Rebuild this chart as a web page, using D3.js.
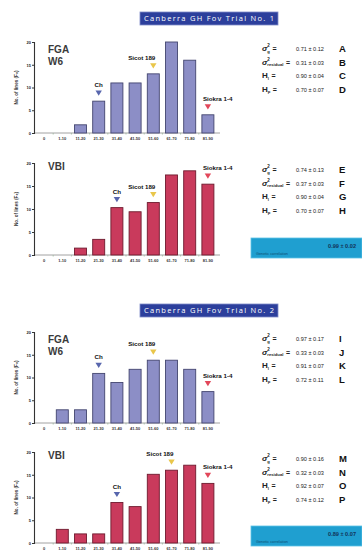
<!DOCTYPE html>
<html>
<head>
<meta charset="utf-8">
<script src="https://cdn.jsdelivr.net/npm/d3@7"></script>
<style>
  html, body { margin: 0; padding: 0; background: #fff; }
  svg { display: block; font-family: "Liberation Sans", Arial, sans-serif; }
</style>
</head>
<body>
<div id="chart"></div>
<script>
// score classes on the x axis and count ticks on the y axis
const categories = ["0", "1-10", "11-20", "21-30", "31-40", "41-50", "51-60", "61-70", "71-80", "81-90"];
const yTicks = [0, 5, 10, 15, 20];

// number of lines per class
const fgaTrial1 = [0, 0, 1.8, 7, 11, 11, 13, 20, 16, 4];
const vbiTrial1 = [0, 0, 1.5, 3.4, 10.3, 9.4, 11.4, 17.4, 18.3, 15.4];
const fgaTrial2 = [0, 2.9, 2.9, 10.9, 8.9, 11.8, 13.8, 13.8, 11.8, 6.9];
const vbiTrial2 = [0, 3, 2, 2, 8.9, 8, 15.1, 16, 17.1, 13.1];

// check varieties and the class they fall in
const checkNames = ["Ch", "Sicot 189", "Siokra 1-4"];
const checksFga1 = [3, 6, 9];
const checksVbi1 = [4, 6, 9];
const checksFga2 = [3, 6, 9];
const checksVbi2 = [4, 7, 9];

// variance components / heritabilities
const statsFga1 = ["0.71 ± 0.12", "0.31 ± 0.03", "0.90 ± 0.04", "0.70 ± 0.07"];
const statsVbi1 = ["0.74 ± 0.13", "0.37 ± 0.03", "0.90 ± 0.04", "0.70 ± 0.07"];
const statsFga2 = ["0.97 ± 0.17", "0.33 ± 0.03", "0.91 ± 0.07", "0.72 ± 0.11"];
const statsVbi2 = ["0.90 ± 0.16", "0.32 ± 0.03", "0.92 ± 0.07", "0.74 ± 0.12"];
const statLetters = ["A", "B", "C", "D", "E", "F", "G", "H", "I", "J", "K", "L", "M", "N", "O", "P"];
const correlations = ["0.99 ± 0.02", "0.89 ± 0.07"];
const trialTitles = ["Canberra GH Fov Trial No. 1", "Canberra GH Fov Trial No. 2"];

const width = 362, height = 550;
const svg = d3.select('#chart').append('svg')
  .attr('width', width)
  .attr('height', height);

const checkColor = ['#5866ad', '#e9c64a', '#e2475a'];
const symbols = [
  { glyph: 'σ', sup: '2', sub: 'g' },
  { glyph: 'σ', sup: '2', sub: 'residual' },
  { glyph: 'H', sub: 'l' },
  { glyph: 'H', sub: 'p' }
];

const panels = [
  { title: ['FGA', 'W6'], values: fgaTrial1, checks: checksFga1, stats: statsFga1, top: 42, base: 133, fill: '#8c8ec6', edge: '#43456f' },
  { title: ['VBI'], values: vbiTrial1, checks: checksVbi1, stats: statsVbi1, top: 163, base: 255, fill: '#c93a5c', edge: '#6e1a2e' },
  { title: ['FGA', 'W6'], values: fgaTrial2, checks: checksFga2, stats: statsFga2, top: 332, base: 423, fill: '#8c8ec6', edge: '#43456f' },
  { title: ['VBI'], values: vbiTrial2, checks: checksVbi2, stats: statsVbi2, top: 452, base: 543, fill: '#c93a5c', edge: '#6e1a2e' }
];

// trial banners
[12, 304].forEach((y, i) => {
  svg.append('rect')
    .attr('x', 140).attr('y', y).attr('width', 138).attr('height', 13)
    .attr('fill', '#2c3f9c').attr('stroke', '#7f8cc8').attr('stroke-width', 0.8);
  svg.append('text')
    .attr('x', 144).attr('y', y + 9.3)
    .attr('textLength', 130).attr('lengthAdjust', 'spacing')
    .style('font-family', '"Open Sans", sans-serif')
    .style('font-size', '7.5px')
    .attr('fill', '#fff')
    .text(trialTitles[i]);
});

panels.forEach((p, pi) => {
  const x = d3.scaleBand().domain(categories).range([35, 217]).paddingInner(0.34).paddingOuter(0.17);
  const y = d3.scaleLinear().domain([0, 20]).range([p.base, p.top]);
  const g = svg.append('g');

  // baseline with small ticks between classes
  g.append('line')
    .attr('x1', 34).attr('x2', 220).attr('y1', p.base).attr('y2', p.base)
    .attr('stroke', '#8a8a8a').attr('stroke-width', 0.8);
  g.selectAll('line.sep')
    .data(categories.slice(1))
    .enter().append('line')
    .attr('class', 'sep')
    .attr('x1', d => x(d) - x.step() * 0.17).attr('x2', d => x(d) - x.step() * 0.17)
    .attr('y1', p.base).attr('y2', p.base + 1.5)
    .attr('stroke', '#9bb79b').attr('stroke-width', 0.8);

  g.selectAll('rect.bar')
    .data(p.values)
    .enter().append('rect')
    .attr('class', 'bar')
    .attr('x', (d, i) => x(categories[i]))
    .attr('width', x.bandwidth())
    .attr('y', d => y(d))
    .attr('height', d => p.base - y(d))
    .attr('fill', p.fill)
    .attr('stroke', p.edge)
    .attr('stroke-width', d => d > 0 ? 0.9 : 0);

  // y axis
  const yAxis = g.append('g')
    .attr('transform', 'translate(34,0)')
    .call(d3.axisLeft(y).tickValues(yTicks).tickSize(2).tickPadding(1));
  yAxis.select('.domain').attr('stroke', '#333').attr('stroke-width', 1.1);
  yAxis.selectAll('.tick line').attr('stroke', '#333');
  yAxis.selectAll('.tick text')
    .style('font-size', '4px').style('font-weight', 'bold').attr('fill', '#222');

  g.append('text')
    .attr('transform', `translate(18,${(p.top + p.base) / 2}) rotate(-90)`)
    .attr('text-anchor', 'middle')
    .style('font-size', '4.6px').style('font-weight', 'bold').attr('fill', '#333')
    .text('No. of lines (F₆)');

  // x tick labels
  g.selectAll('text.cat')
    .data(categories)
    .enter().append('text')
    .attr('class', 'cat')
    .attr('x', d => x(d) + x.bandwidth() / 2)
    .attr('y', p.base + 6.5)
    .attr('text-anchor', 'middle')
    .style('font-size', '4px').style('font-weight', 'bold').attr('fill', '#333')
    .text(d => d);

  // trait title
  p.title.forEach((t, ti) => {
    g.append('text')
      .attr('x', 48)
      .attr('y', p.top + (p.title.length > 1 ? 11 : 7) + ti * 12)
      .style('font-size', '10px').style('font-weight', 'bold').attr('fill', '#3a3a3a')
      .text(t);
  });

  // check variety markers
  p.checks.forEach((ci, k) => {
    const cx = x(categories[ci]) + x.bandwidth() / 2;
    const topY = y(p.values[ci]);
    const ty = topY - 8;
    g.append('path')
      .attr('d', `M${cx - 3.2},${ty - 2.6} L${cx + 3.2},${ty - 2.6} L${cx},${ty + 2.6} Z`)
      .attr('fill', checkColor[k]);
    const anchor = ['middle', 'end', 'start'][k];
    const lx = [cx, cx + 2, cx - 5][k];
    g.append('text')
      .attr('x', lx).attr('y', topY - 14)
      .attr('text-anchor', anchor)
      .style('font-size', '6.2px').style('font-weight', 'bold').attr('fill', '#111')
      .text(checkNames[k]);
  });

  // statistics block
  symbols.forEach((s, r) => {
    const ry = p.top + 9 + r * 13.5;
    const glyph = g.append('text')
      .attr('x', 262).attr('y', ry)
      .style('font-size', '8px').style('font-weight', 'bold').style('font-style', s.glyph === 'σ' ? 'italic' : 'normal')
      .attr('fill', '#222').text(s.glyph);
    const gw = glyph.node().getComputedTextLength();
    if (s.sup) {
      g.append('text').attr('x', 262 + gw).attr('y', ry - 4)
        .style('font-size', '4.5px').style('font-weight', 'bold').attr('fill', '#222').text(s.sup);
    }
    const sub = g.append('text').attr('x', 262 + gw).attr('y', ry + 1.5)
      .style('font-size', '4.2px').style('font-weight', 'bold').attr('fill', '#222').text(s.sub);
    const sw = sub.node().getComputedTextLength();
    g.append('text').attr('x', 262 + gw + sw + 2.5).attr('y', ry)
      .style('font-size', '7px').style('font-weight', 'bold').attr('fill', '#222').text('=');
    g.append('text').attr('x', 296).attr('y', ry)
      .style('font-size', '5.6px').attr('fill', '#222').text(p.stats[r]);
    g.append('text').attr('x', 339).attr('y', ry + 1)
      .style('font-size', '9.5px').style('font-weight', 'bold').attr('fill', '#111')
      .text(statLetters[pi * 4 + r]);
  });

  // genetic correlation box under each VBI chart
  if (pi % 2 === 1) {
    const by = p.base - 17;
    g.append('rect')
      .attr('x', 251).attr('y', by).attr('width', 111).attr('height', 20)
      .attr('fill', '#1f9fd0');
    g.append('rect')
      .attr('x', 251).attr('y', by).attr('width', 111).attr('height', 20)
      .attr('fill', 'none').attr('stroke', '#5cc3e6').attr('stroke-width', 0.8);
    g.append('text').attr('x', 356).attr('y', by + 10)
      .attr('text-anchor', 'end')
      .style('font-size', '5.6px').style('font-weight', 'bold').attr('fill', '#12345a')
      .text(correlations[(pi - 1) / 2]);
    g.append('text').attr('x', 256).attr('y', by + 17)
      .style('font-size', '3.8px').attr('fill', '#0e4f72')
      .text('Genetic correlation');
  }
});
</script>
</body>
</html>
